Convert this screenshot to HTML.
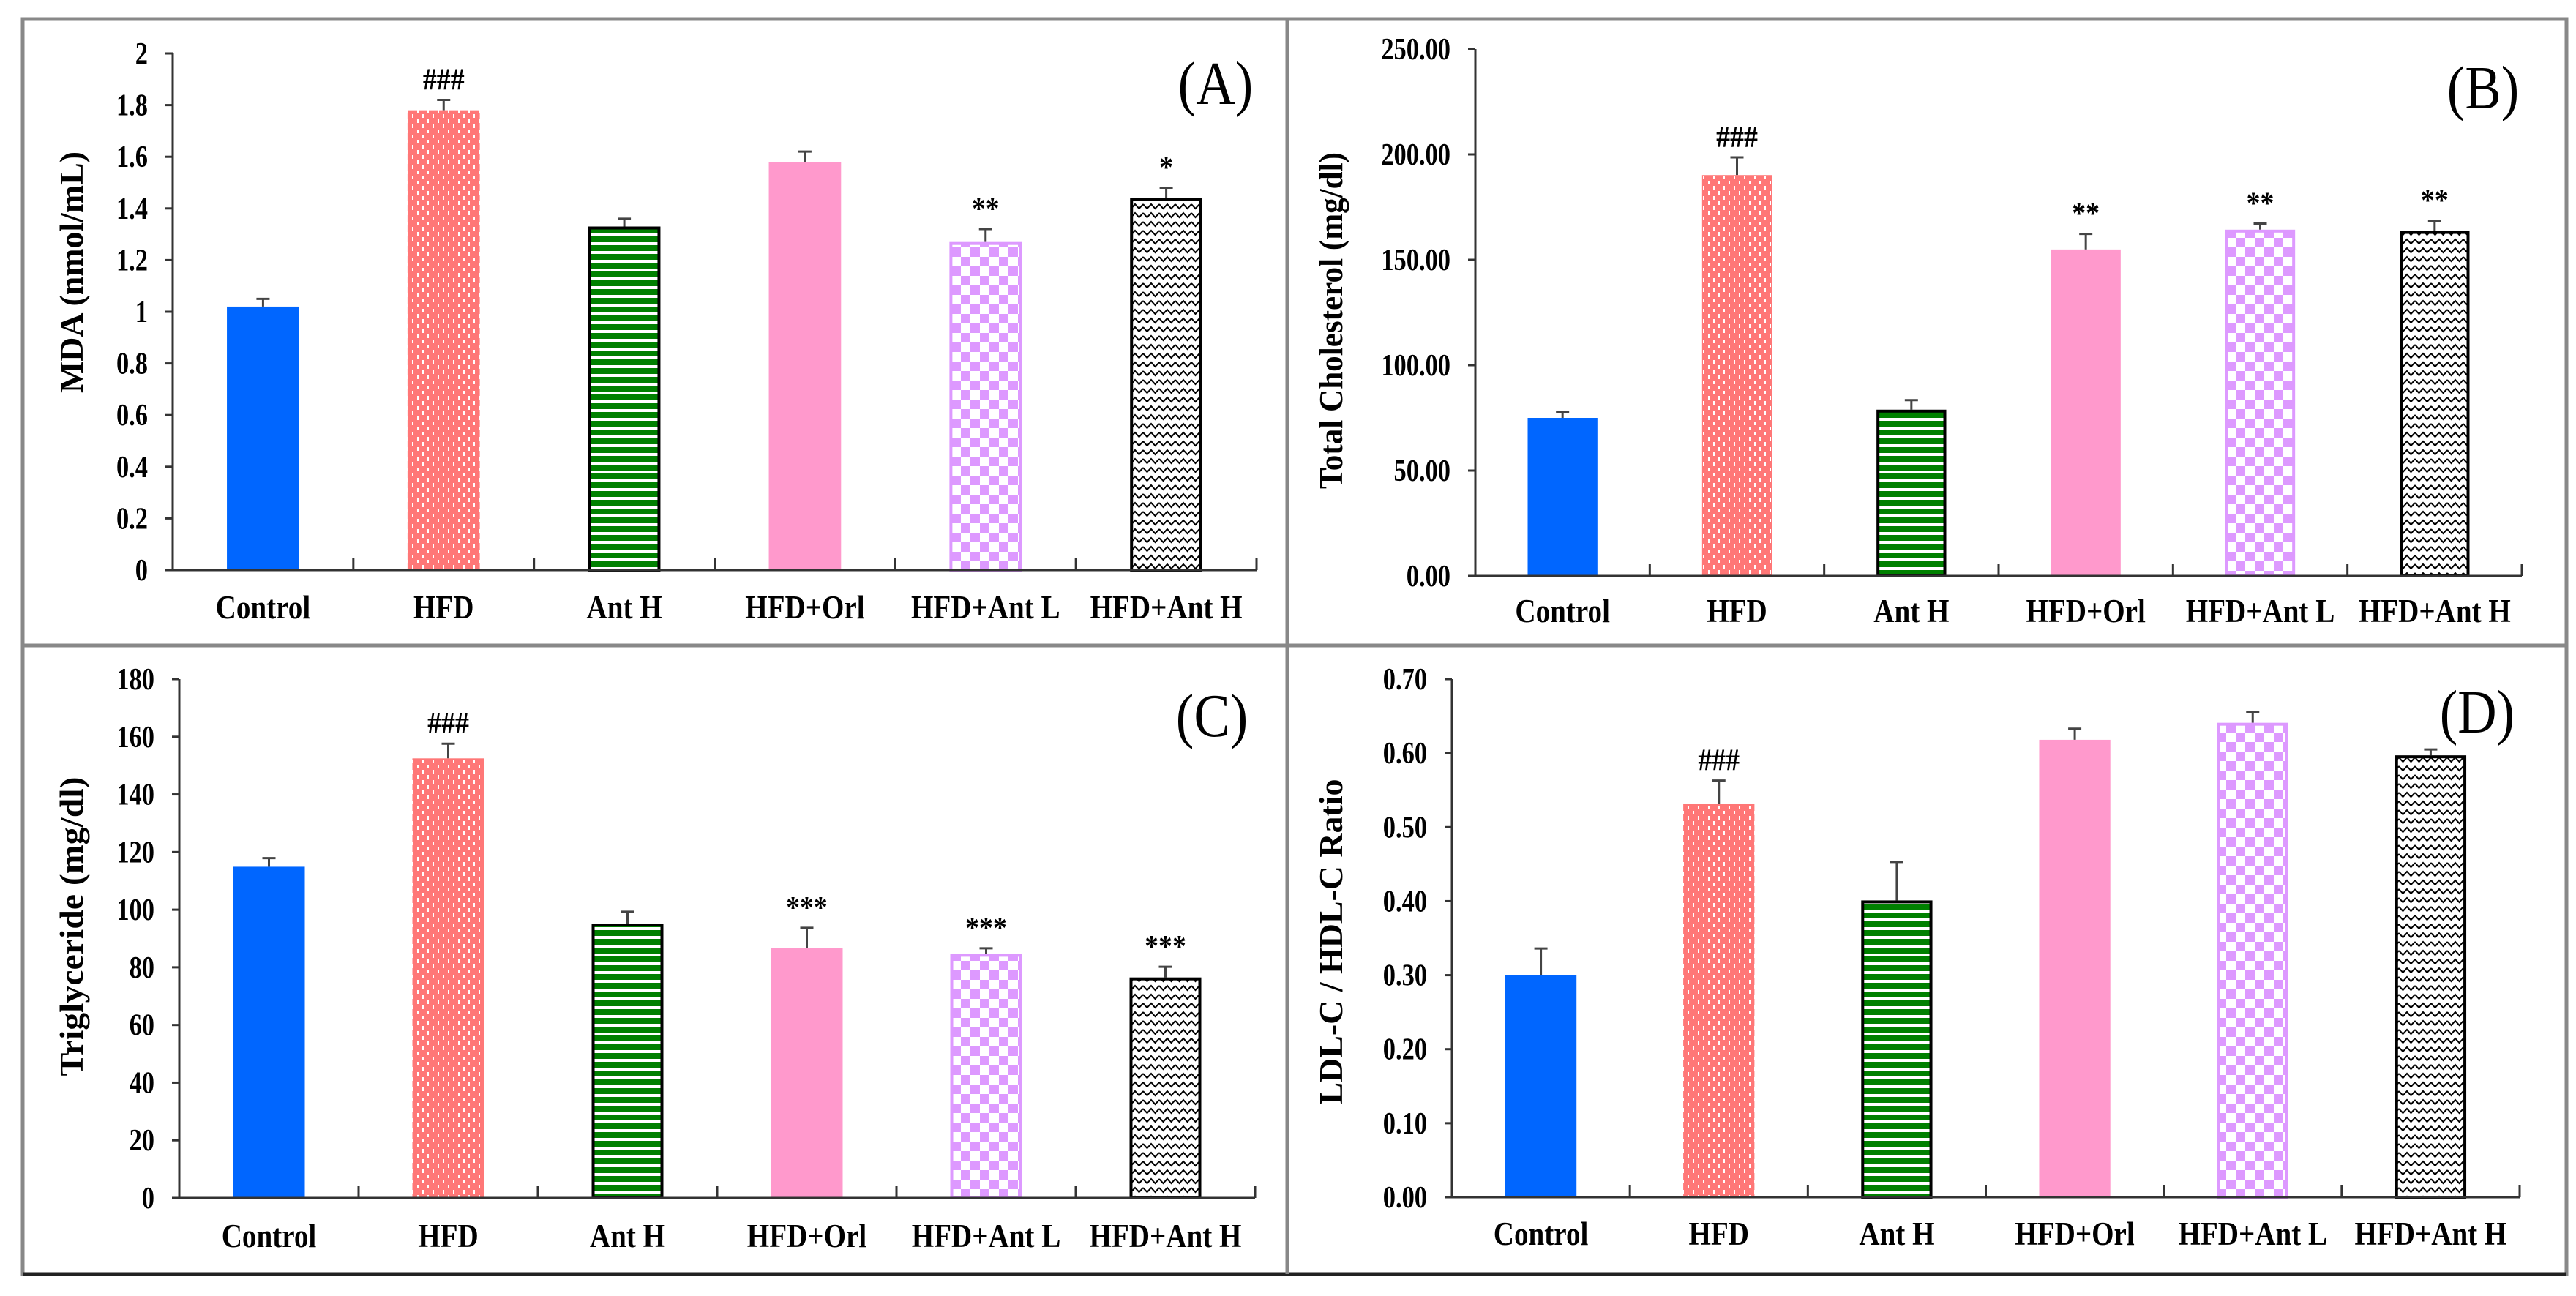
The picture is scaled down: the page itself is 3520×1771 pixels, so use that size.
<!DOCTYPE html>
<html><head><meta charset="utf-8"><style>
html,body{margin:0;padding:0;background:#fff;}
svg{display:block;}
text{font-family:"Liberation Serif",serif;}
</style></head><body>
<svg id="fig" width="3520" height="1771" viewBox="0 0 3520 1771" xmlns="http://www.w3.org/2000/svg">
<defs>
<pattern id="pDots" width="14" height="14" patternUnits="userSpaceOnUse"><rect width="14" height="14" fill="#ff7777"/><rect x="3" y="2" width="2" height="5" fill="#fff"/><rect x="10" y="9" width="2" height="5" fill="#fff"/></pattern>
<pattern id="pStripe" width="12" height="12" patternUnits="userSpaceOnUse"><rect width="12" height="12" fill="#008000"/><rect y="7" width="12" height="4" fill="#fff"/></pattern>
<pattern id="pCheck" width="26" height="26" patternUnits="userSpaceOnUse"><rect width="26" height="26" fill="#fff"/><rect width="13" height="13" fill="#dd99ff"/><rect x="13" y="13" width="13" height="13" fill="#dd99ff"/></pattern>
<pattern id="pZig" width="22" height="12" patternUnits="userSpaceOnUse"><rect width="22" height="12" fill="#fff"/><path d="M0 3 L5.5 9 L11 3 L16.5 9 L22 3" stroke="#000" stroke-width="2" fill="none"/></pattern>
</defs>
<g id="frame">
<rect x="31" y="26" width="3476" height="1715" fill="none" stroke="#888" stroke-width="5"/>
<line x1="31" y1="1741" x2="3507" y2="1741" stroke="#222" stroke-width="5"/>
<line x1="1759" y1="26" x2="1759" y2="1741" stroke="#888" stroke-width="5"/>
<line x1="31" y1="882" x2="3507" y2="882" stroke="#888" stroke-width="5"/>
</g>
</svg>
<script>
const categories = ["Control","HFD","Ant H","HFD+Orl","HFD+Ant L","HFD+Ant H"];
const valuesA = [1.02,1.78,1.33,1.58,1.27,1.44];
const errorsA = [0.03,0.04,0.03,0.04,0.05,0.04];
const marksA = ["","###","","","**","*"];
const ticksA = ["0","0.2","0.4","0.6","0.8","1","1.2","1.4","1.6","1.8","2"];
const valuesB = [75.0,190.2,78.9,154.9,164.3,163.7];
const errorsB = [2.6,8.4,4.5,7.4,2.9,4.8];
const marksB = ["","###","","**","**","**"];
const ticksB = ["0.00","50.00","100.00","150.00","200.00","250.00"];
const valuesC = [114.9,152.5,95.2,86.6,84.7,76.5];
const errorsC = [3.0,5.1,4.1,7.1,1.9,3.7];
const marksC = ["","###","","***","***","***"];
const ticksC = ["0","20","40","60","80","100","120","140","160","180"];
const valuesD = [0.30,0.531,0.401,0.618,0.641,0.597];
const errorsD = [0.036,0.032,0.052,0.015,0.015,0.008];
const marksD = ["","###","","","",""];
const ticksD = ["0.00","0.10","0.20","0.30","0.40","0.50","0.60","0.70"];

const fills = ["#0066ff","url(#pDots)","url(#pStripe)","#ff99cc","url(#pCheck)","url(#pZig)"];
const strokes = ["none","none","#000","none","#dd99ff","#000"];
const NS = "http://www.w3.org/2000/svg";
const svg = document.getElementById("fig");
function mk(tag, attrs, parent, txt){
  const e = document.createElementNS(NS, tag);
  for (const k in attrs) e.setAttribute(k, attrs[k]);
  if (txt !== undefined) e.textContent = txt;
  parent.appendChild(e);
  return e;
}
function sx(x, s){ return `translate(${x} 0) scale(${s} 1) translate(${-x} 0)`; }
const panels = [
 {id:"a", letter:"(A)", vals:valuesA, errs:errorsA, marks:marksA, ticks:ticksA, max:2, x0:236, x1:1717, yTop:73, yBot:779, labY:845, title:"MDA (nmol/mL)", tx:113, tLen:330, tCy:372, lx:1661, ly:142},
 {id:"b", letter:"(B)", vals:valuesB, errs:errorsB, marks:marksB, ticks:ticksB, max:250, x0:2016, x1:3446, yTop:67, yBot:787, labY:850, title:"Total Cholesterol (mg/dl)", tx:1834, tLen:460, tCy:438, lx:3393, ly:148},
 {id:"c", letter:"(C)", vals:valuesC, errs:errorsC, marks:marksC, ticks:ticksC, max:180, x0:245, x1:1715, yTop:928, yBot:1637, labY:1704, title:"Triglyceride  (mg/dl)", tx:113, tLen:409, tCy:1266, lx:1656, ly:1006},
 {id:"d", letter:"(D)", vals:valuesD, errs:errorsD, marks:marksD, ticks:ticksD, max:0.7, x0:1984, x1:3443, yTop:928, yBot:1636, labY:1701, title:"LDL-C / HDL-C Ratio", tx:1834, tLen:445, tCy:1287, lx:3385, ly:1001}
];
panels.forEach(p => {
  const g = mk("g", {}, svg);
  
  
  const yS = v => p.yBot - v / p.max * (p.yBot - p.yTop);
  const cw = (p.x1 - p.x0) / categories.length;
  const bw = cw * 0.4;
  p.vals.forEach((v, i) => {
    const cx = p.x0 + cw * (i + 0.5);
    const top = yS(v), etop = yS(v + p.errs[i]);
    const eb = mk("g", {}, g);
    
    
    mk("line", {x1:cx, y1:top, x2:cx, y2:etop, stroke:"#444", "stroke-width":3}, eb);
    mk("line", {x1:cx-9, y1:etop, x2:cx+9, y2:etop, stroke:"#444", "stroke-width":3}, eb);
    const sw = strokes[i] === "none" ? 0 : 4;
    const r = mk("rect", {x:cx-bw/2+sw/2, y:top+sw/2, width:bw-sw, height:p.yBot-top-sw/2, fill:fills[i], stroke:strokes[i], "stroke-width":sw}, g);
    
    
    if (p.marks[i]) {
      const t = mk("text", {x:cx, y:etop-14, "text-anchor":"middle", "font-size":p.marks[i][0]==="#"?42:42, "font-weight":"bold", transform:sx(cx,0.9)}, g, p.marks[i]);
      
      
    }
    const cl = mk("text", {x:cx, y:p.labY, "text-anchor":"middle", "font-size":46, "font-weight":"bold", transform:sx(cx,0.85)}, g, categories[i]);
    
    
  });
  const ax = mk("g", {}, g);
  
  
  mk("line", {x1:p.x0, y1:p.yTop, x2:p.x0, y2:p.yBot, stroke:"#333", "stroke-width":3}, ax);
  mk("line", {x1:p.x0, y1:p.yBot, x2:p.x1, y2:p.yBot, stroke:"#333", "stroke-width":3}, ax);
  for (let i = 1; i <= categories.length; i++) {
    const x = p.x0 + cw * i;
    mk("line", {x1:x, y1:p.yBot, x2:x, y2:p.yBot-16, stroke:"#333", "stroke-width":3}, ax);
  }
  p.ticks.forEach((t, i) => {
    const v = i * p.max / (p.ticks.length - 1);
    const y = yS(v);
    mk("line", {x1:p.x0-10, y1:y, x2:p.x0, y2:y, stroke:"#333", "stroke-width":3}, ax);
    const tl = mk("text", {x:p.x0-34, y:y+14, "text-anchor":"end", "font-size":42, "font-weight":"bold", transform:sx(p.x0-34,0.82)}, g, t);
    
    
  });
  const yt = mk("text", {x:0, y:0, "text-anchor":"middle", "font-size":46, "font-weight":"bold", textLength:p.tLen, lengthAdjust:"spacingAndGlyphs", transform:`translate(${p.tx} ${p.tCy}) rotate(-90)`}, g, p.title);
  
  
  const lt = mk("text", {x:p.lx, y:p.ly, "text-anchor":"middle", "font-size":84, transform:sx(p.lx,0.88)}, g, p.letter);
  
  
});
</script>
</body></html>
